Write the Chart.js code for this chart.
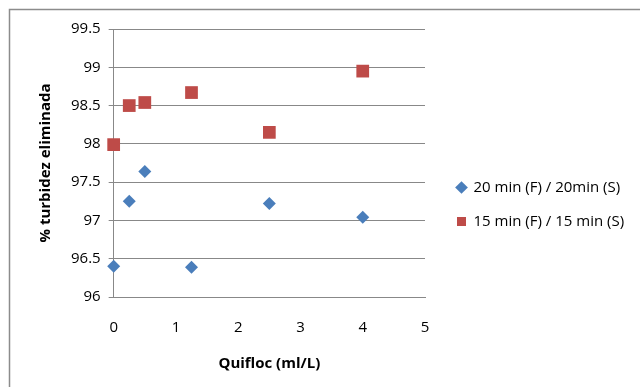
<!DOCTYPE html>
<html>
<head>
<meta charset="utf-8">
<script src="https://cdn.jsdelivr.net/npm/chart.js@4"></script>
<style>
  html, body { margin: 0; padding: 0; background: #fff; }
  #wrap { width: 640px; height: 387px; }
</style>
</head>
<body>
<div id="wrap"><canvas id="chart" width="640" height="387"></canvas></div>
<script>
const doses = [0, 0.25, 0.5, 1.25, 2.5, 4];
const series20 = [96.4, 97.25, 97.64, 96.39, 97.22, 97.04];
const series15 = [97.99, 98.5, 98.54, 98.67, 98.15, 98.95];
const seriesLabels = ['20 min (F) / 20min (S)', '15 min (F) / 15 min (S)'];
const xTicks = [0, 1, 2, 3, 4, 5];
const yTicks = [96, 96.5, 97, 97.5, 98, 98.5, 99, 99.5];

const toPoints = (ys) => doses.map((x, i) => ({ x: x, y: ys[i] }));

const fontFamily = '"Open Sans", "Liberation Sans", sans-serif';

// frame line on the top and left edge, like the original chart area border
const framePlugin = {
  id: 'frame',
  beforeDraw(chart) {
    const ctx = chart.ctx;
    ctx.save();
    ctx.fillStyle = '#fff';
    ctx.fillRect(0, 0, chart.width, chart.height);
    ctx.strokeStyle = '#8c8c8c';
    ctx.lineWidth = 1.5;
    ctx.beginPath();
    ctx.moveTo(9.5, chart.height + 2);
    ctx.lineTo(9.5, 9.5);
    ctx.lineTo(chart.width + 2, 9.5);
    ctx.stroke();
    ctx.restore();
  }
};

// fixed legend width and a gap between plot area and legend
const legendGap = {
  id: 'legendGap',
  beforeInit(chart) {
    const fit = chart.legend.fit;
    chart.legend.fit = function () {
      fit.bind(this)();
      this.width = 215;
    };
  },
  afterLayout(chart) {
    chart.legend.left += 13;
    chart.legend.top += 2;
    chart.legend.bottom += 2;
  }
};

new Chart(document.getElementById('chart'), {
  type: 'scatter',
  data: {
    datasets: [
      {
        label: seriesLabels[0],
        data: toPoints(series20),
        pointStyle: 'rectRot',
        pointRadius: 6.5,
        backgroundColor: '#4a7ebb',
        borderColor: '#4a7ebb',
        borderWidth: 0,
        clip: false
      },
      {
        label: seriesLabels[1],
        data: toPoints(series15),
        pointStyle: 'rect',
        pointRadius: 9,
        backgroundColor: '#be4b48',
        borderColor: '#be4b48',
        borderWidth: 0,
        clip: false
      }
    ]
  },
  options: {
    responsive: false,
    animation: false,
    layout: { padding: { left: 37, right: 0, top: 29, bottom: 11 } },
    scales: {
      x: {
        type: 'linear',
        min: 0,
        max: 5,
        afterBuildTicks: (axis) => { axis.ticks = xTicks.map(v => ({ value: v })); },
        grid: { display: false, drawOnChartArea: false, drawTicks: true, tickLength: 5, color: '#888' },
        border: { display: true, color: '#888', width: 1 },
        ticks: { color: '#000', padding: 17, font: { family: fontFamily, size: 15 } },
        title: {
          display: true,
          text: 'Quifloc (ml/L)',
          color: '#000',
          padding: { top: 1, bottom: 3 },
          font: { family: fontFamily, size: 15, weight: 'bold' }
        }
      },
      y: {
        type: 'linear',
        min: 96,
        max: 99.5,
        afterBuildTicks: (axis) => { axis.ticks = yTicks.map(v => ({ value: v })); },
        grid: { color: '#888', lineWidth: 1, tickLength: 5 },
        border: { display: true, color: '#888', width: 1 },
        ticks: {
          color: '#000',
          padding: 8,
          font: { family: fontFamily, size: 15 },
          callback: (v) => String(v)
        },
        title: {
          display: true,
          text: '% turbidez eliminada',
          color: '#000',
          padding: { top: 0, bottom: 8 },
          font: { family: fontFamily, size: 15, weight: 'bold' }
        }
      }
    },
    plugins: {
      legend: {
        position: 'right',
        labels: {
          usePointStyle: true,
          boxWidth: 9,
          boxHeight: 9,
          padding: 19,
          color: '#000',
          font: { family: fontFamily, size: 15 }
        }
      },
      tooltip: { enabled: false }
    }
  },
  plugins: [framePlugin, legendGap]
});
</script>
</body>
</html>
